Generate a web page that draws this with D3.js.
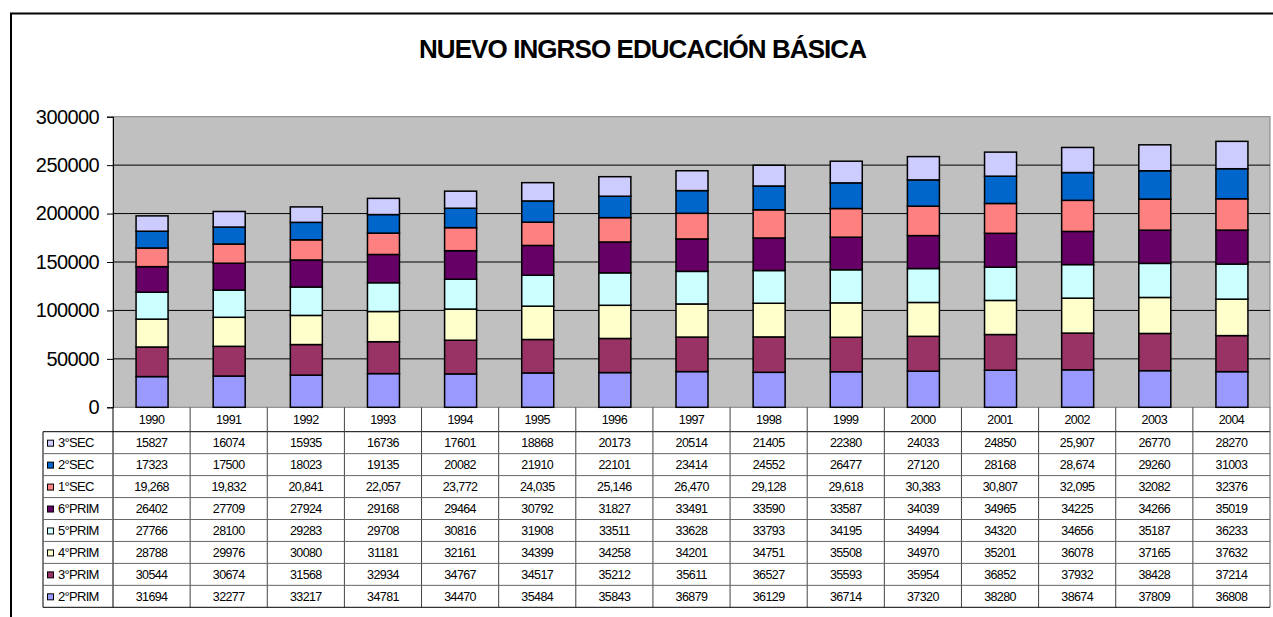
<!DOCTYPE html>
<html><head><meta charset="utf-8">
<script src="https://cdn.jsdelivr.net/npm/d3@7"></script>
<style>
body{margin:0;background:#fff;}
text{font-family:"Liberation Sans",Arial,sans-serif;}
</style></head>
<body><svg id="c" width="1273" height="617"></svg>
<script>
const years = ["1990","1991","1992","1993","1994","1995","1996","1997","1998","1999","2000","2001","2002","2003","2004"];
const yTicks = [0,50000,100000,150000,200000,250000,300000];
const title = "NUEVO INGRSO EDUCACIÓN BÁSICA";
// stack order bottom -> top
const seriesNames = ["2°PRIM","3°PRIM","4°PRIM","5°PRIM","6°PRIM","1°SEC","2°SEC","3°SEC"];
const seriesColors = ["#9999FF","#993366","#FFFFCC","#CCFFFF","#660066","#FF8080","#0066CC","#CCCCFF"];
const prim2 = [31694,32277,33217,34781,34470,35484,35843,36879,36129,36714,37320,38280,38674,37809,36808];
const prim3 = [30544,30674,31568,32934,34767,34517,35212,35611,36527,35593,35954,36852,37932,38428,37214];
const prim4 = [28788,29976,30080,31181,32161,34399,34258,34201,34751,35508,34970,35201,36078,37165,37632];
const prim5 = [27766,28100,29283,29708,30816,31908,33511,33628,33793,34195,34994,34320,34656,35187,36233];
const prim6 = [26402,27709,27924,29168,29464,30792,31827,33491,33590,33587,34039,34965,34225,34266,35019];
const sec1  = [19268,19832,20841,22057,23772,24035,25146,26470,29128,29618,30383,30807,32095,32082,32376];
const sec2  = [17323,17500,18023,19135,20082,21910,22101,23414,24552,26477,27120,28168,28674,29260,31003];
const sec3  = [15827,16074,15935,16736,17601,18868,20173,20514,21405,22380,24033,24850,25907,26770,28270];
const seriesValues = [prim2,prim3,prim4,prim5,prim6,sec1,sec2,sec3];
// cells shown with thousands separator in the table
const commaCells = {"1°SEC":["1990","1991","1992","1993","1994","1995","1996","1997","1998","1999","2000","2001","2002"],
                    "2°SEC":["2002"], "3°SEC":["2002"]};

const svg = d3.select("#c");
const plotL = 113, plotR = 1270, plotT = 116.7, plotB = 407.3;
const tableL = 43, headerB = 431.7, rowH = 21.95;

// outer frame
svg.append("rect").attr("x",11).attr("y",13.5).attr("width",1290).attr("height",640)
  .attr("fill","#fff").attr("stroke","#000").attr("stroke-width",2);

svg.append("text").attr("x",642).attr("y",58).attr("text-anchor","middle")
  .attr("font-size",26).attr("font-weight","bold").attr("letter-spacing","-2")
  .attr("textLength",446).attr("lengthAdjust","spacing").text(title);

const x = d3.scaleBand().domain(years).range([plotL,plotR]);
const y = d3.scaleLinear().domain([0,300000]).range([plotB,plotT]);

svg.append("rect").attr("x",plotL).attr("y",plotT).attr("width",plotR-plotL).attr("height",plotB-plotT)
  .attr("fill","#C0C0C0").attr("stroke","#808080").attr("stroke-width",1);

// gridlines
svg.append("g").selectAll("line").data(yTicks.filter(d=>d>0 && d<300000)).join("line")
  .attr("x1",plotL).attr("x2",plotR).attr("y1",d=>y(d)).attr("y2",d=>y(d))
  .attr("stroke","#000").attr("stroke-width",1);

// y axis
const yAxis = svg.append("g").attr("transform",`translate(${plotL},0)`)
  .call(d3.axisLeft(y).tickValues(yTicks).tickSize(6).tickPadding(8).tickFormat(d3.format("d")));
yAxis.select(".domain").attr("stroke","#000");
yAxis.selectAll("text").attr("font-size",20).attr("fill","#000")
  .attr("font-family","'Liberation Sans',Arial,sans-serif").attr("letter-spacing","-0.6");

// stacked bars
const table = years.map((yr,i)=>{const o={year:yr}; seriesNames.forEach((s,k)=>o[s]=seriesValues[k][i]); return o;});
const stack = d3.stack().keys(seriesNames)(table);
const bw = 32;
svg.append("g").selectAll("g").data(stack).join("g")
  .attr("fill",(d,i)=>seriesColors[i])
  .selectAll("rect").data(d=>d).join("rect")
  .attr("x",d=>x(d.data.year)+x.bandwidth()/2-bw/2 + 0.5)
  .attr("width",bw)
  .attr("y",d=>y(d[1]))
  .attr("height",d=>y(d[0])-y(d[1]))
  .attr("stroke","#000").attr("stroke-width",1.5);

// data table
const tg = svg.append("g");
const rowsTop = headerB;
const tableB = rowsTop + rowH*8;
tg.append("line").attr("x1",plotL).attr("x2",plotR).attr("y1",headerB).attr("y2",headerB).attr("stroke","#000");
tg.append("line").attr("x1",plotL).attr("x2",plotL).attr("y1",plotB).attr("y2",tableB).attr("stroke","#000");
tg.append("line").attr("x1",plotR).attr("x2",plotR).attr("y1",plotB).attr("y2",tableB).attr("stroke","#555");
tg.selectAll(".vl").data(years.slice(1)).join("line")
  .attr("x1",d=>x(d)).attr("x2",d=>x(d)).attr("y1",plotB).attr("y2",tableB).attr("stroke","#444");
tg.selectAll(".yr").data(years).join("text")
  .attr("x",d=>x(d)+x.bandwidth()/2).attr("y",(plotB+headerB)/2+4.5)
  .attr("text-anchor","middle").attr("font-size",12.5).attr("letter-spacing","-0.6").text(d=>d);
tg.append("line").attr("x1",tableL).attr("x2",plotL).attr("y1",headerB).attr("y2",headerB).attr("stroke","#000");
tg.append("line").attr("x1",tableL).attr("x2",tableL).attr("y1",headerB).attr("y2",tableB).attr("stroke","#000");
const rowOrder = seriesNames.map((s,i)=>i).reverse();
rowOrder.forEach((si,r)=>{
  const top = rowsTop + r*rowH;
  tg.append("line").attr("x1",tableL).attr("x2",plotR).attr("y1",top+rowH).attr("y2",top+rowH)
    .attr("stroke", r===7 ? "#000" : "#666");
  tg.append("rect").attr("x",47.5).attr("y",top+rowH/2-2.5).attr("width",6).attr("height",6)
    .attr("fill",seriesColors[si]).attr("stroke","#000").attr("stroke-width",1);
  tg.append("text").attr("x",58).attr("y",top+rowH/2+4.5).attr("font-size",13)
    .attr("letter-spacing","-0.7").text(seriesNames[si]);
  const cset = commaCells[seriesNames[si]] || [];
  years.forEach((yr,i)=>{
    const v = seriesValues[si][i];
    const label = cset.includes(yr) ? d3.format(",")(v) : String(v);
    tg.append("text").attr("x",x(yr)+x.bandwidth()/2).attr("y",top+rowH/2+4.5)
      .attr("text-anchor","middle").attr("font-size",12.5).attr("letter-spacing","-0.6").text(label);
  });
});
</script></body></html>
